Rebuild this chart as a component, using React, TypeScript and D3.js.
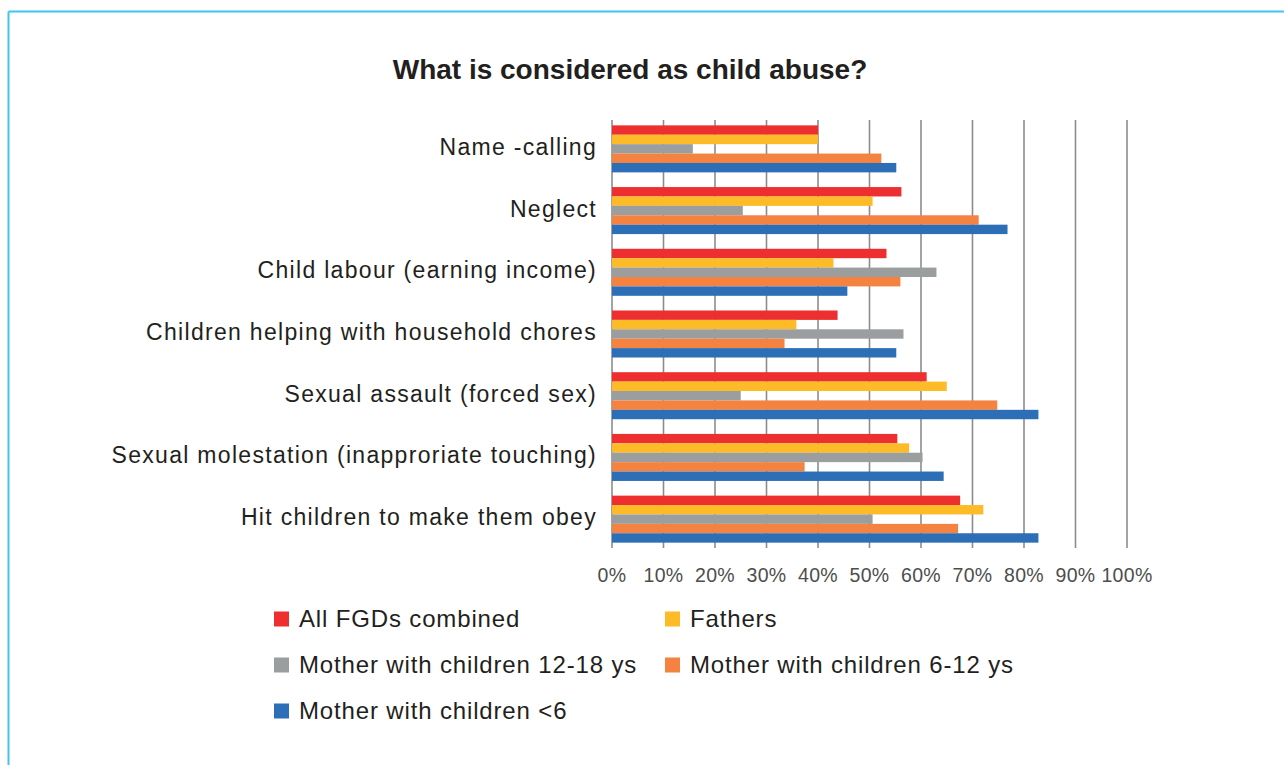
import React from "react";
import * as d3 from "d3";

const categories = [
  "Name -calling",
  "Neglect",
  "Child labour (earning income)",
  "Children helping with household chores",
  "Sexual assault (forced sex)",
  "Sexual molestation (inapproriate touching)",
  "Hit children to make them obey",
];

const seriesNames = [
  "All FGDs combined",
  "Fathers",
  "Mother with children 12-18 ys",
  "Mother with children 6-12 ys",
  "Mother with children <6",
];

const seriesColors = ["#EE2F2F", "#FDBB27", "#9B9E9F", "#F48240", "#2D6FB7"];

const allFGDs = [0.40, 0.562, 0.533, 0.438, 0.611, 0.554, 0.676];
const fathers = [0.40, 0.506, 0.430, 0.358, 0.650, 0.577, 0.721];
const mothers12to18 = [0.157, 0.254, 0.630, 0.566, 0.250, 0.603, 0.506];
const mothers6to12 = [0.523, 0.712, 0.560, 0.335, 0.748, 0.374, 0.672];
const mothersUnder6 = [0.552, 0.768, 0.457, 0.552, 0.828, 0.644, 0.828];

const seriesValues = [allFGDs, fathers, mothers12to18, mothers6to12, mothersUnder6];

const ticks = [0, 0.1, 0.2, 0.3, 0.4, 0.5, 0.6, 0.7, 0.8, 0.9, 1.0];

const W = 1284;
const H = 765;

export default function App() {
  const x = d3.scaleLinear().domain([0, 1]).range([612, 1127]);
  const y = d3
    .scaleBand<string>()
    .domain(categories)
    .range([118, 550])
    .paddingInner(0.238)
    .paddingOuter(0.119);
  const inner = d3
    .scaleBand<string>()
    .domain(seriesNames)
    .range([0, y.bandwidth()])
    .padding(0);
  const fmt = d3.format(".0%");

  const legendPos = [
    [274, 619],
    [665, 619],
    [274, 665],
    [665, 665],
    [274, 711],
  ];

  return (
    <svg
      width={W}
      height={H}
      style={{ position: "absolute", left: 0, top: 0, background: "#fff" }}
    >
      <rect x={0} y={0} width={W} height={H} fill="#fff" />
      {/* frame */}
      <line x1={8.5} y1={11.5} x2={W} y2={11.5} stroke="#45C3F0" strokeWidth={2} />
      <line x1={8.5} y1={11.5} x2={8.5} y2={H} stroke="#45C3F0" strokeWidth={2} />

      <text
        x={630}
        y={79}
        textAnchor="middle"
        fontFamily="Liberation Sans, Arial, sans-serif"
        fontWeight="bold"
        fontSize={28}
        fill="#231F20"
      >
        What is considered as child abuse?
      </text>

      {/* gridlines */}
      {ticks.map((t) => (
        <line
          key={"g" + t}
          x1={x(t)}
          x2={x(t)}
          y1={120}
          y2={548}
          stroke="#8C8C8C"
          strokeWidth={1.6}
        />
      ))}

      {/* bars */}
      {categories.map((c, ci) => (
        <g key={c} transform={`translate(0,${y(c)})`}>
          {seriesNames.map((s, si) => (
            <rect
              key={s}
              x={x(0)}
              y={inner(s)}
              width={x(seriesValues[si][ci]) - x(0)}
              height={inner.bandwidth()}
              fill={seriesColors[si]}
            />
          ))}
        </g>
      ))}

      {/* category labels */}
      {categories.map((c) => (
        <text
          key={"l" + c}
          x={597}
          y={(y(c) as number) + y.bandwidth() / 2 - 2}
          dy="0.35em"
          textAnchor="end"
          fontFamily="Liberation Sans, Arial, sans-serif"
          fontSize={23}
          letterSpacing={1.3}
          fill="#231F20"
        >
          {c}
        </text>
      ))}

      {/* tick labels */}
      {ticks.map((t) => (
        <text
          key={"t" + t}
          x={x(t)}
          y={582}
          textAnchor="middle"
          fontFamily="Liberation Sans, Arial, sans-serif"
          fontSize={19.5}
          letterSpacing={0.3}
          fill="#4D4D4D"
        >
          {fmt(t)}
        </text>
      ))}

      {/* legend */}
      {seriesNames.map((s, si) => (
        <g key={"lg" + s} transform={`translate(${legendPos[si][0]},${legendPos[si][1]})`}>
          <rect x={0} y={-7.5} width={15} height={15} fill={seriesColors[si]} />
          <text
            x={25}
            y={0}
            dy="0.35em"
            fontFamily="Liberation Sans, Arial, sans-serif"
            fontSize={24}
            letterSpacing={0.85}
            fill="#231F20"
          >
            {s}
          </text>
        </g>
      ))}
    </svg>
  );
}
